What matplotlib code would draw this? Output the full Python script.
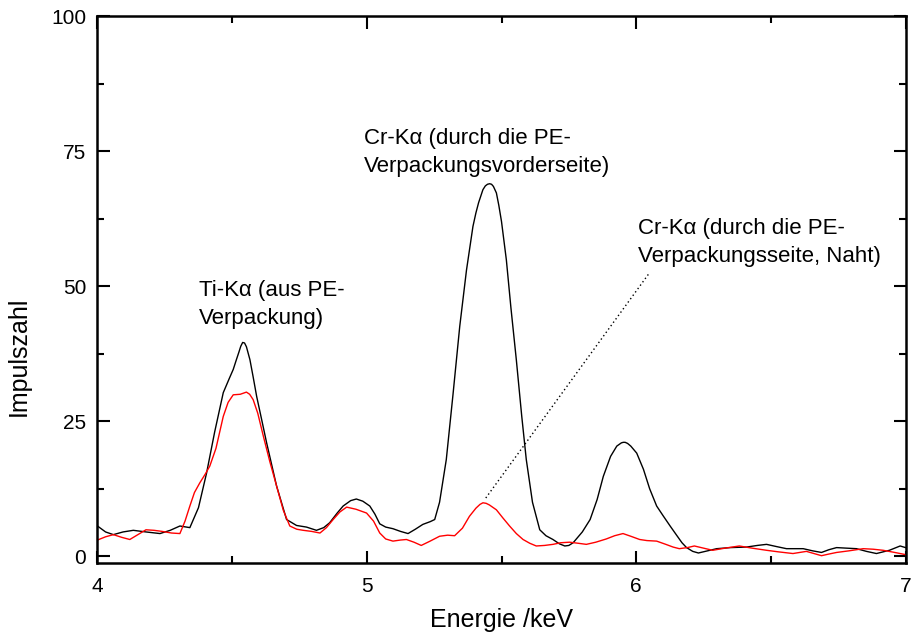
import matplotlib
matplotlib.use("Agg")
import matplotlib.pyplot as plt
from matplotlib.ticker import MultipleLocator

plt.rcParams['font.family'] = ['Liberation Sans', 'DejaVu Sans']

# spectrum through the front side of the PE packaging (black)
energy_front = [4.000, 4.030, 4.059, 4.095, 4.133, 4.180, 4.232, 4.270, 4.306, 4.343,
                4.375, 4.405, 4.435, 4.467, 4.490, 4.504, 4.515, 4.525, 4.532, 4.539,
                4.546, 4.553, 4.566, 4.578, 4.591, 4.610, 4.628, 4.665, 4.702, 4.739,
                4.776, 4.813, 4.840, 4.862, 4.890, 4.912, 4.940, 4.961, 4.985, 5.011,
                5.030, 5.048, 5.070, 5.097, 5.125, 5.153, 5.180, 5.208, 5.235, 5.252,
                5.270, 5.295, 5.320, 5.345, 5.370, 5.394, 5.405, 5.415, 5.425, 5.431,
                5.440, 5.448, 5.456, 5.463, 5.470, 5.481, 5.490, 5.500, 5.518, 5.535,
                5.555, 5.575, 5.592, 5.615, 5.642, 5.665, 5.691, 5.715, 5.735, 5.750,
                5.766, 5.800, 5.829, 5.855, 5.878, 5.905, 5.928, 5.945, 5.952, 5.959,
                5.968, 5.980, 6.002, 6.027, 6.050, 6.076, 6.100, 6.126, 6.150, 6.170,
                6.187, 6.210, 6.231, 6.265, 6.299, 6.350, 6.410, 6.450, 6.484, 6.520,
                6.558, 6.620, 6.655, 6.688, 6.715, 6.744, 6.780, 6.818, 6.855, 6.892,
                6.940, 6.980, 7.000]
counts_front = [5.6, 4.5, 4.0, 4.5, 4.8, 4.5, 4.2, 4.8, 5.6, 5.3,
                9.0, 15.4, 23.0, 30.3, 33.0, 34.6, 36.3, 37.8, 38.9, 39.6,
                39.5, 38.8, 36.4, 33.2, 29.6, 25.2, 21.0, 13.0, 6.8, 5.7,
                5.4, 4.8, 5.3, 6.2, 8.0, 9.3, 10.3, 10.6, 10.2, 9.3,
                7.8, 6.0, 5.4, 5.1, 4.6, 4.2, 5.0, 5.9, 6.4, 6.8,
                10.0, 17.9, 30.0, 42.6, 53.0, 61.1, 63.6, 65.5, 67.0, 67.9,
                68.6, 68.9, 69.0, 68.9, 68.5, 67.3, 65.0, 62.0, 54.9, 46.0,
                36.4, 26.0, 17.9, 10.0, 4.9, 3.8, 3.1, 2.3, 1.9, 2.0,
                2.5, 4.5, 6.8, 10.5, 14.8, 18.5, 20.4, 21.0, 21.1, 21.1,
                20.9, 20.4, 19.1, 16.1, 12.5, 9.3, 7.5, 5.6, 3.9, 2.5,
                1.6, 0.9, 0.6, 1.0, 1.4, 1.6, 1.7, 2.0, 2.2, 1.8,
                1.4, 1.4, 1.0, 0.7, 1.2, 1.6, 1.5, 1.4, 0.9, 0.5,
                1.1, 1.9, 1.6]

# spectrum through the side seam of the packaging (red)
energy_seam = [4.000, 4.030, 4.059, 4.090, 4.120, 4.150, 4.180, 4.210, 4.240, 4.275,
               4.306, 4.325, 4.343, 4.360, 4.380, 4.400, 4.417, 4.440, 4.467, 4.485,
               4.504, 4.530, 4.553, 4.565, 4.578, 4.595, 4.616, 4.640, 4.665, 4.690,
               4.714, 4.740, 4.764, 4.795, 4.826, 4.850, 4.875, 4.900, 4.925, 4.960,
               4.999, 5.025, 5.048, 5.070, 5.097, 5.125, 5.147, 5.175, 5.202, 5.235,
               5.270, 5.300, 5.326, 5.355, 5.381, 5.405, 5.420, 5.431, 5.443, 5.455,
               5.481, 5.505, 5.530, 5.555, 5.580, 5.605, 5.629, 5.660, 5.691, 5.720,
               5.753, 5.785, 5.815, 5.850, 5.889, 5.920, 5.951, 5.980, 6.013, 6.040,
               6.076, 6.110, 6.137, 6.160, 6.190, 6.216, 6.250, 6.284, 6.330, 6.383,
               6.430, 6.484, 6.530, 6.582, 6.632, 6.660, 6.688, 6.715, 6.744, 6.790,
               6.843, 6.880, 6.917, 6.960, 7.000]
counts_seam = [3.0, 3.6, 4.0, 3.5, 3.1, 4.0, 4.9, 4.8, 4.6, 4.3,
               4.2, 6.5, 9.3, 11.8, 13.6, 15.2, 16.7, 20.0, 25.9, 28.5,
               29.9, 30.0, 30.4, 30.0, 29.0, 26.5, 22.2, 17.5, 13.0, 8.5,
               5.6, 5.0, 4.8, 4.6, 4.3, 5.3, 6.8, 8.2, 9.1, 8.7,
               8.0, 6.5, 4.3, 3.2, 2.8, 3.0, 3.1, 2.6, 2.0, 2.8,
               3.7, 3.9, 3.8, 5.2, 7.4, 8.9, 9.6, 9.9, 9.8, 9.5,
               8.6, 7.1, 5.6, 4.2, 3.1, 2.4, 1.9, 2.0, 2.2, 2.5,
               2.6, 2.4, 2.2, 2.6, 3.2, 3.8, 4.2, 3.7, 3.1, 2.9,
               2.8, 2.2, 1.7, 1.4, 1.6, 1.9, 1.5, 1.1, 1.5, 1.9,
               1.5, 1.1, 0.8, 0.5, 0.9, 0.5, 0.1, 0.4, 0.7, 1.0,
               1.4, 1.3, 1.1, 0.7, 0.3]

y_ticks = [0, 25, 50, 75, 100]
x_ticks = [4, 5, 6, 7]

fig = plt.figure(figsize=(9.11, 6.42), dpi=100)
ax = fig.add_axes([0.107, 0.1235, 0.887, 0.851])

ax.plot(energy_front, counts_front, color='black', linewidth=1.0)
ax.plot(energy_seam, counts_seam, color='red', linewidth=1.0)

# dotted pointer from the seam label to the small Cr peak
ax.plot([6.045, 5.436], [52.2, 10.4], color='black', linestyle=(0, (1, 2)), linewidth=1.0)

ax.text(4.377, 51.2, "Ti-K\u03b1 (aus PE-\nVerpackung)", fontsize=16, va='top', ha='left',
        linespacing=1.45)
ax.text(4.989, 79.3, "Cr-K\u03b1 (durch die PE-\nVerpackungsvorderseite)", fontsize=16,
        va='top', ha='left', linespacing=1.45)
ax.text(6.006, 62.6, "Cr-K\u03b1 (durch die PE-\nVerpackungsseite, Naht)", fontsize=16,
        va='top', ha='left', linespacing=1.45)

ax.set_xlim(4, 7)
ax.set_ylim(-1.2, 100)
ax.set_xticks(x_ticks)
ax.set_yticks(y_ticks)
ax.xaxis.set_minor_locator(MultipleLocator(0.5))
ax.yaxis.set_minor_locator(MultipleLocator(12.5))
ax.tick_params(which='both', direction='in', top=True, right=True, width=1.5, labelsize=15)
ax.tick_params(which='major', length=9)
ax.tick_params(which='minor', length=5)
ax.tick_params(axis='x', pad=10)
ax.tick_params(axis='y', pad=8)
for s in ax.spines.values():
    s.set_linewidth(1.8)

ax.set_xlabel("Energie /keV", fontsize=18)
ax.set_ylabel("Impulszahl", fontsize=18)
ax.xaxis.set_label_coords(0.5, -0.083)
ax.yaxis.set_label_coords(-0.083, 0.377)

plt.savefig("out.png", dpi=100)
plt.close()
